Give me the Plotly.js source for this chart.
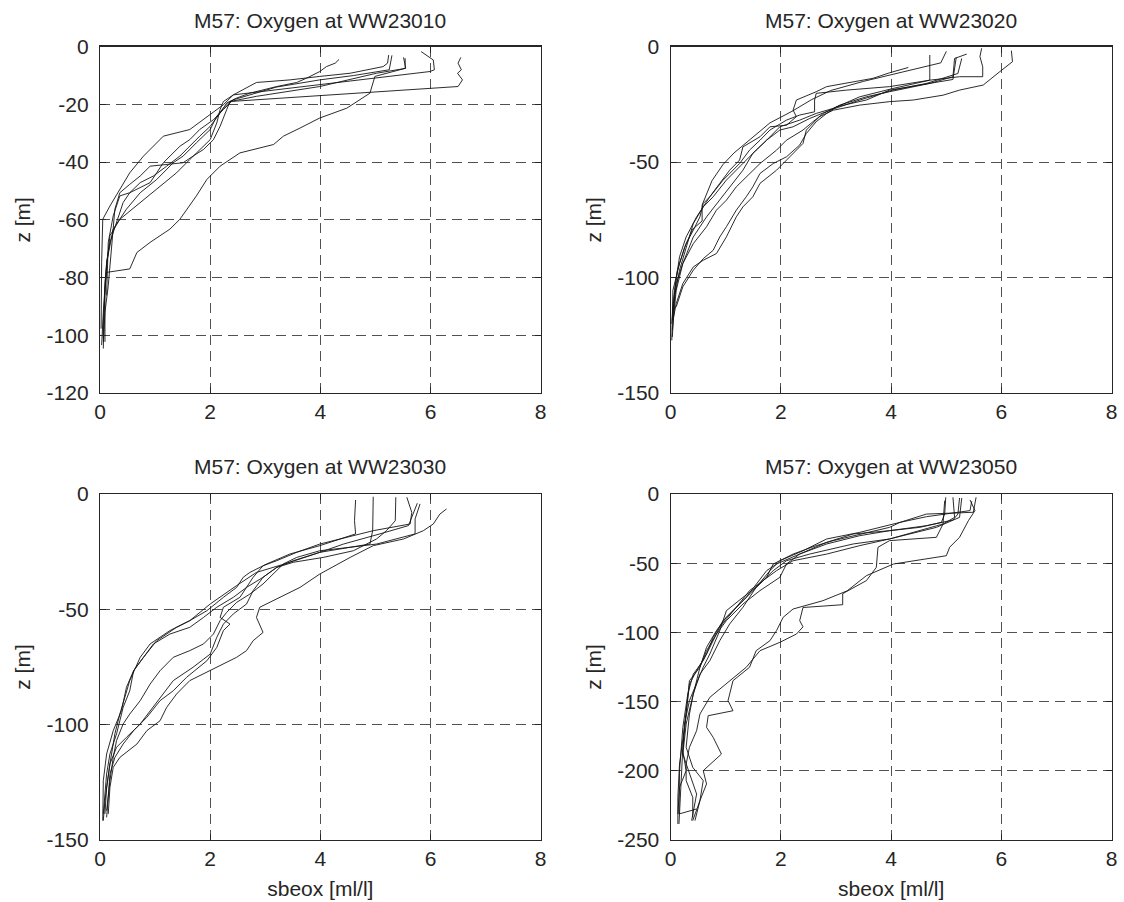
<!DOCTYPE html>
<html>
<head>
<meta charset="utf-8">
<script src="https://cdn.plot.ly/plotly-3.0.1.min.js"></script>
<style>html,body{margin:0;padding:0;background:#fff;}#chart{width:1124px;height:902px;}</style>
</head>
<body>
<div id="chart"></div>
<script>
// ---------- Station titles and axis ticks ----------
const stations = ["WW23010", "WW23020", "WW23030", "WW23050"];
const xTickVals = [0, 2, 4, 6, 8];
const xTickText = ["0", "2", "4", "6", "8"];
const yTicks1 = [0, -20, -40, -60, -80, -100, -120];
const yTicks1Text = ["0", "-20", "-40", "-60", "-80", "-100", "-120"];
const yTicks2 = [0, -50, -100, -150];
const yTicks2Text = ["0", "-50", "-100", "-150"];
const yTicks4 = [0, -50, -100, -150, -200, -250];
const yTicks4Text = ["0", "-50", "-100", "-150", "-200", "-250"];
const yRanges = [[-120, 0], [-150, 0], [-150, 0], [-250, 0]];

// ---------- WW23010 casts (sbeox [ml/l], z [m]) ----------
const s1c1_ox = [6.55,6.50,6.56,6.49,6.58,6.50,2.36,2.24,2.12,2.00,1.75,1.51,1.33,1.03,0.73,0.48,0.24,0.12,0.06,0.03];
const s1c1_z  = [-3.7,-5.7,-8.0,-9.2,-11.5,-13.8,-19.0,-21.3,-24.1,-28.7,-33.3,-37.9,-40.2,-46.0,-50.6,-56.3,-63.2,-74.7,-92.0,-103.4];
const s1c2_ox = [5.83,6.05,6.07,5.99,2.42,2.24,2.18,2.12,2.00,1.81,1.63,1.39,1.09,0.73,0.36,0.18,0.09,0.06];
const s1c2_z  = [-1.7,-4.6,-8.0,-8.6,-16.7,-19.0,-21.8,-26.4,-32.2,-35.6,-39.1,-43.7,-48.3,-54.0,-59.8,-65.5,-81.6,-104.6];
const s1c3_ox = [5.54,5.54,4.99,4.90,4.48,3.99,3.63,3.33,3.15,2.54,2.18,1.94,1.75,1.45,1.27,0.91,0.67,0.54,0.12,0.09,0.06,0.06];
const s1c3_z  = [-4.0,-7.5,-10.3,-16.1,-21.3,-24.7,-28.2,-31.0,-33.9,-36.8,-41.4,-46.0,-51.7,-59.8,-63.2,-67.8,-71.3,-77.0,-78.2,-83.9,-95.4,-101.0];
const s1c4_ox = [5.24,5.22,5.14,4.54,3.99,3.45,2.84,2.42,2.24,1.88,1.63,1.15,0.79,0.54,0.36,0.18,0.05,0.03,0.02];
const s1c4_z  = [-2.9,-5.7,-6.9,-9.2,-10.3,-11.5,-12.4,-16.7,-20.1,-25.3,-28.7,-31.0,-37.9,-43.7,-49.4,-55.2,-59.8,-74.7,-97.7];
const s1c5_ox = [4.34,4.27,4.11,3.99,3.75,3.57,3.21,2.72,2.48,2.30,2.18,2.00,1.81,1.63,1.45,1.21,0.97,0.73,0.54,0.42,0.30,0.18,0.12,0.09,0.09];
const s1c5_z  = [-4.4,-5.7,-6.9,-8.6,-10.9,-12.4,-13.8,-16.1,-17.8,-19.5,-23.0,-27.6,-31.0,-34.5,-37.9,-41.4,-44.8,-47.1,-50.6,-54.0,-60.9,-67.8,-74.7,-86.2,-102.3];
const s1c6_ox = [5.51,5.55,5.02,3.99,2.84,2.36,2.30,2.18,2.06,1.88,1.69,1.51,0.91,0.73,0.54,0.36,0.27,0.24,0.18,0.15,0.09,0.06];
const s1c6_z  = [-3.7,-7.5,-9.2,-13.8,-17.2,-19.0,-21.8,-27.6,-32.2,-35.6,-37.9,-40.2,-41.4,-44.8,-47.7,-50.6,-56.3,-63.2,-74.7,-82.8,-92.0,-102.3];
const s1c7_ox = [5.30,5.25,4.60,3.99,3.20,2.42,2.24,2.06,1.81,1.63,1.45,1.27,1.15,1.03,0.91,0.54,0.36,0.24,0.15,0.12];
const s1c7_z  = [-3.0,-8.0,-10.0,-11.5,-14.0,-18.4,-21.8,-25.3,-28.7,-32.2,-34.5,-37.9,-40.2,-43.7,-47.1,-50.6,-51.7,-58.6,-67.8,-86.2];

// ---------- WW23020 casts ----------
const s2c1_ox = [6.18,6.20,5.97,5.79,5.67,5.24,4.94,4.40,3.97,3.43,2.95,2.70,2.46,2.40,2.16,1.92,1.62,1.49,1.31,1.19,1.01,0.83,0.59,0.41,0.22,0.10,0.04];
const s2c1_z  = [-1.7,-6.5,-10.8,-14.5,-16.6,-18.8,-21.0,-23.1,-23.8,-25.3,-27.5,-30.3,-36.1,-41.9,-47.7,-53.5,-59.2,-65.0,-69.4,-73.7,-82.4,-89.6,-92.5,-95.4,-102.6,-111.3,-118.5];
const s2c2_ox = [5.64,5.61,5.66,5.66,5.24,4.70,4.03,3.43,2.95,2.64,2.34,1.98,1.74,1.49,1.31,1.07,0.89,0.65,0.41,0.22,0.10,0.04];
const s2c2_z  = [-0.7,-4.3,-8.7,-13.0,-13.0,-14.5,-18.1,-21.7,-26.7,-28.9,-31.8,-34.7,-40.5,-46.2,-53.5,-60.7,-66.5,-73.7,-82.4,-93.9,-102.6,-115.6];
const s2c3_ox = [5.37,5.15,5.12,4.70,3.97,3.55,3.07,2.77,2.58,2.40,2.10,1.92,1.62,1.37,1.19,1.01,0.83,0.65,0.41,0.22,0.10,0.03];
const s2c3_z  = [-3.2,-5.1,-13.0,-15.9,-19.5,-21.7,-25.3,-28.9,-32.5,-36.1,-40.5,-44.8,-50.6,-56.4,-60.7,-66.5,-70.8,-78.0,-85.3,-93.9,-105.5,-122.8];
const s2c4_ox = [5.28,5.21,4.64,4.03,3.43,2.89,2.52,2.22,1.98,1.74,1.55,1.31,1.01,0.77,0.59,0.41,0.28,0.16,0.07,0.03];
const s2c4_z  = [-5.1,-11.6,-15.9,-18.8,-23.1,-27.5,-31.1,-34.7,-36.1,-40.5,-44.8,-50.6,-57.8,-65.0,-69.4,-76.6,-86.7,-96.8,-108.4,-125.7];
const s2c5_ox = [4.70,4.70,3.97,3.19,2.64,2.61,2.61,2.34,2.10,1.80,1.62,1.43,1.25,0.95,0.71,0.47,0.28,0.16,0.07,0.03];
const s2c5_z  = [-3.6,-14.5,-17.3,-18.8,-20.2,-23.1,-28.2,-29.6,-31.8,-36.1,-40.5,-44.8,-50.6,-57.8,-65.0,-73.7,-82.4,-91.0,-105.5,-118.5];
const s2c6_ox = [4.31,3.97,3.67,3.19,2.83,2.64,2.28,2.22,2.28,2.10,1.80,1.62,1.31,1.25,1.07,0.89,0.71,0.59,0.53,0.41,0.28,0.16,0.04,0.02];
const s2c6_z  = [-9.0,-11.3,-13.7,-15.9,-17.3,-19.5,-23.1,-27.5,-30.3,-34.0,-34.7,-39.0,-43.4,-49.1,-53.5,-59.2,-65.0,-67.9,-73.7,-79.5,-85.3,-93.9,-105.5,-127.2];
const s2c7_ox = [5.18,5.12,4.52,3.97,3.55,3.01,2.83,2.64,2.46,2.34,2.10,1.86,1.62,1.49,1.37,1.19,1.01,0.89,0.77,0.59,0.41,0.22,0.10];
const s2c7_z  = [-4.6,-14.2,-16.6,-18.8,-23.1,-26.0,-28.9,-32.5,-37.6,-42.6,-47.7,-50.6,-54.9,-60.7,-65.0,-70.8,-78.0,-82.4,-88.2,-91.8,-96.8,-104.0,-112.7];
const s2c8_ox = [5.00,4.90,4.20,3.50,2.90,2.55,2.20,1.80,1.45,1.15,0.95,0.75,0.57,0.57,0.40,0.25,0.12,0.05,0.02];
const s2c8_z  = [-2.0,-7.0,-11.0,-15.0,-19.0,-23.0,-28.0,-33.0,-40.0,-46.0,-51.0,-58.0,-68.6,-75.5,-79.0,-87.0,-97.0,-110.0,-120.0];

// ---------- WW23030 casts ----------
const s3c1_ox = [6.29,6.17,6.05,5.87,5.51,4.96,4.54,3.99,3.63,3.21,2.90,2.84,2.96,2.78,2.66,2.48,1.94,1.63,1.39,1.21,1.09,0.85,0.67,0.36,0.24,0.18,0.15];
const s3c1_z  = [-6.5,-8.7,-13.0,-15.9,-19.5,-22.4,-27.5,-34.7,-40.5,-45.5,-49.1,-53.5,-60.0,-63.6,-67.9,-70.8,-77.3,-80.9,-86.7,-92.5,-98.3,-102.6,-108.4,-114.2,-118.5,-127.2,-138.7];
const s3c2_ox = [5.81,5.72,5.72,5.02,4.54,3.99,3.51,3.21,2.96,2.78,2.66,2.42,2.24,2.12,2.00,1.69,1.33,1.15,0.97,0.73,0.48,0.30,0.18,0.12,0.09];
const s3c2_z  = [-4.3,-10.8,-17.3,-21.7,-23.1,-25.3,-28.9,-31.8,-36.1,-41.9,-47.7,-52.0,-56.4,-62.1,-69.4,-75.1,-80.9,-86.7,-92.5,-99.7,-105.5,-109.8,-117.0,-127.2,-138.7];
const s3c3_ox = [5.57,5.66,5.63,4.96,3.99,3.57,3.21,2.96,2.78,2.66,2.54,2.24,2.18,2.36,2.24,2.12,1.94,1.57,1.33,1.09,0.85,0.61,0.42,0.27,0.18,0.15,0.12];
const s3c3_z  = [-1.4,-8.0,-13.0,-15.9,-21.7,-25.3,-28.9,-31.1,-36.1,-40.5,-44.8,-49.1,-53.5,-56.4,-59.2,-66.5,-72.3,-79.5,-85.3,-89.6,-96.8,-102.6,-108.4,-114.2,-121.4,-131.5,-140.2];
const s3c4_ox = [5.37,5.36,5.20,5.02,4.60,4.05,3.51,3.21,2.96,2.66,2.42,2.12,1.88,1.63,1.27,0.97,0.79,0.61,0.54,0.42,0.36,0.30,0.18,0.12,0.06];
const s3c4_z  = [-1.4,-11.6,-15.9,-19.5,-24.6,-27.5,-29.6,-31.8,-36.1,-40.5,-44.8,-49.1,-53.5,-57.8,-60.7,-65.0,-70.8,-76.6,-85.3,-92.5,-98.3,-104.0,-112.7,-121.4,-138.7];
const s3c5_ox = [4.96,4.95,4.90,4.54,3.99,3.57,3.33,3.15,2.96,2.72,2.48,2.30,2.18,2.06,1.88,1.63,1.33,1.09,0.91,0.73,0.54,0.42,0.30,0.24,0.18,0.12];
const s3c5_z  = [-1.2,-15.9,-21.7,-23.1,-24.6,-27.5,-30.3,-34.7,-39.0,-43.4,-47.0,-51.3,-54.9,-60.7,-65.0,-67.9,-70.8,-76.6,-82.4,-89.6,-95.4,-99.7,-106.9,-114.2,-124.3,-137.3];
const s3c6_ox = [4.64,4.62,4.64,3.99,3.45,3.03,2.72,2.60,2.48,2.24,1.94,1.63,1.27,0.91,0.73,0.54,0.45,0.36,0.27,0.18,0.09,0.06];
const s3c6_z  = [-2.6,-11.6,-17.3,-22.4,-26.0,-30.3,-34.0,-36.1,-40.5,-44.8,-50.6,-54.9,-59.2,-65.0,-70.8,-80.9,-88.2,-95.4,-104.0,-117.0,-132.9,-141.6];
const s3c7_ox = [5.76,5.67,5.60,5.08,4.42,3.99,3.45,2.84,2.48,2.00,1.63,1.39,1.03,0.79,0.61,0.48,0.39,0.24,0.12,0.06,0.05];
const s3c7_z  = [-4.0,-9.4,-13.7,-17.3,-21.7,-25.3,-29.6,-34.0,-39.7,-47.7,-54.9,-57.8,-63.6,-70.8,-76.6,-83.8,-93.9,-102.6,-112.7,-124.3,-141.6];

// ---------- WW23050 casts ----------
const s4c1_ox = [5.43,5.52,5.40,5.24,5.06,5.00,4.04,3.55,3.20,2.76,2.22,2.04,1.92,1.80,1.55,1.43,1.13,1.04,1.13,0.68,0.65,0.77,0.92,0.59,0.65,0.53,0.44];
const s4c1_z  = [-4.3,-12.0,-19.3,-31.3,-38.5,-44.6,-50.6,-59.0,-70.0,-77.1,-83.1,-89.1,-98.7,-106.0,-113.2,-125.2,-134.9,-149.3,-156.6,-160.2,-168.6,-175.8,-187.9,-199.9,-209.5,-221.6,-236.0];
const s4c2_ox = [5.12,5.15,4.94,4.82,3.97,3.76,3.73,3.55,3.12,3.12,2.40,2.34,2.40,2.28,1.98,1.62,1.37,1.07,0.71,0.53,0.47,0.34,0.28,0.28,0.40,0.40];
const s4c2_z  = [-2.4,-16.9,-21.7,-31.3,-33.7,-38.5,-53.0,-62.6,-72.0,-80.0,-82.0,-91.5,-96.0,-101.2,-107.2,-113.2,-125.2,-134.9,-146.9,-159.0,-171.0,-183.0,-195.1,-207.1,-219.2,-233.6];
const s4c3_ox = [5.54,5.49,4.64,4.16,3.97,3.43,2.95,2.64,2.22,1.86,1.74,1.43,1.19,0.95,0.77,0.65,0.47,0.34,0.28,0.22,0.19,0.15];
const s4c3_z  = [-2.4,-13.2,-14.5,-20.5,-24.1,-28.9,-33.7,-37.3,-43.4,-50.6,-60.2,-72.3,-81.9,-91.5,-103.6,-115.6,-127.7,-137.3,-159.0,-183.0,-207.1,-238.4];
const s4c4_ox = [5.24,5.21,5.12,4.64,3.97,3.43,2.83,2.34,2.10,1.98,1.62,1.31,1.01,0.83,0.65,0.53,0.41,0.28,0.22,0.34,0.47,0.38];
const s4c4_z  = [-2.9,-14.5,-18.8,-22.9,-26.5,-30.1,-36.1,-43.4,-50.6,-60.2,-69.8,-79.5,-91.5,-101.2,-113.2,-125.2,-144.5,-166.2,-187.9,-202.3,-216.8,-236.0];
const s4c5_ox = [4.99,4.97,4.91,4.52,3.97,3.31,2.83,2.34,1.92,1.74,1.37,1.01,0.83,0.65,0.53,0.34,0.31,0.25,0.16,0.13,0.13];
const s4c5_z  = [-2.4,-14.5,-20.5,-24.1,-26.5,-28.9,-34.9,-43.4,-50.6,-55.4,-74.7,-89.1,-98.7,-110.8,-125.2,-134.9,-146.9,-168.6,-195.1,-219.2,-238.4];
const s4c6_ox = [5.46,5.43,4.64,4.16,3.43,2.83,2.40,1.98,1.80,1.55,1.31,1.01,0.89,0.71,0.59,0.47,0.34,0.25,0.22,0.28,0.16,0.13];
const s4c6_z  = [-5.3,-12.0,-16.4,-20.5,-27.7,-32.5,-41.0,-48.2,-55.4,-67.4,-74.7,-84.3,-98.7,-115.6,-125.2,-137.3,-149.3,-166.2,-185.5,-199.9,-212.0,-231.2];
const s4c7_ox = [4.97,4.94,3.97,3.43,2.83,2.22,1.92,1.68,1.43,1.19,0.89,0.71,0.59,0.41,0.31,0.22,0.19,0.16,0.15,0.47];
const s4c7_z  = [-4.8,-21.7,-32.5,-37.3,-43.4,-48.2,-55.4,-62.6,-69.8,-81.9,-96.3,-110.8,-120.4,-130.1,-144.5,-168.6,-183.0,-199.9,-231.2,-227.6];
const s4c8_ox = [5.28,5.24,4.82,3.97,3.31,2.52,2.10,1.86,1.55,1.31,1.07,0.89,0.71,0.53,0.41,0.34,0.28,0.40,0.59,0.53,0.40];
const s4c8_z  = [-2.9,-16.9,-24.1,-32.5,-36.1,-43.4,-48.2,-55.4,-67.4,-81.9,-93.9,-106.0,-120.4,-130.1,-144.5,-159.0,-183.0,-197.5,-207.1,-221.6,-236.0];

// ---------- Build traces ----------
const casts = [
  [[s1c1_ox,s1c1_z],[s1c2_ox,s1c2_z],[s1c3_ox,s1c3_z],[s1c4_ox,s1c4_z],[s1c5_ox,s1c5_z],[s1c6_ox,s1c6_z],[s1c7_ox,s1c7_z]],
  [[s2c1_ox,s2c1_z],[s2c2_ox,s2c2_z],[s2c3_ox,s2c3_z],[s2c4_ox,s2c4_z],[s2c5_ox,s2c5_z],[s2c6_ox,s2c6_z],[s2c7_ox,s2c7_z],[s2c8_ox,s2c8_z]],
  [[s3c1_ox,s3c1_z],[s3c2_ox,s3c2_z],[s3c3_ox,s3c3_z],[s3c4_ox,s3c4_z],[s3c5_ox,s3c5_z],[s3c6_ox,s3c6_z],[s3c7_ox,s3c7_z]],
  [[s4c1_ox,s4c1_z],[s4c2_ox,s4c2_z],[s4c3_ox,s4c3_z],[s4c4_ox,s4c4_z],[s4c5_ox,s4c5_z],[s4c6_ox,s4c6_z],[s4c7_ox,s4c7_z],[s4c8_ox,s4c8_z]]
];
const yTickSets = [[yTicks1, yTicks1Text], [yTicks2, yTicks2Text], [yTicks2, yTicks2Text], [yTicks4, yTicks4Text]];

const traces = [];
casts.forEach((list, p) => {
  const sfx = p === 0 ? '' : String(p + 1);
  list.forEach(([ox, z]) => {
    traces.push({
      type: 'scatter', mode: 'lines', x: ox, y: z,
      xaxis: 'x' + sfx, yaxis: 'y' + sfx,
      line: {color: '#141414', width: 0.9},
      showlegend: false, hoverinfo: 'skip'
    });
  });
});

// ---------- Layout ----------
const FONT = 'Liberation Sans, Arial, Helvetica, sans-serif';
const INK = '#262626';
const xDomains = [[0.08897, 0.48105], [0.59671, 0.98906], [0.08897, 0.48105], [0.59671, 0.98906]];
const yDomains = [[0.56430, 0.94823], [0.56430, 0.94823], [0.06874, 0.45233], [0.06874, 0.45233]];
const titleY = [1 - 20 / 902, 1 - 20 / 902, 1 - 467 / 902, 1 - 467 / 902];

function baseAxis() {
  return {
    showline: true, linecolor: INK, linewidth: 1.2, mirror: 'ticks',
    ticks: 'inside', ticklen: 6, tickwidth: 1, tickcolor: INK,
    showgrid: true, gridcolor: INK, gridwidth: 0.8, griddash: '10px,6px',
    zeroline: false, fixedrange: true,
    tickfont: {family: FONT, size: 21, color: INK}
  };
}

const layout = {
  width: 1124, height: 902,
  margin: {l: 0, r: 0, t: 0, b: 0},
  paper_bgcolor: '#ffffff', plot_bgcolor: '#ffffff',
  font: {family: FONT, size: 21, color: INK},
  showlegend: false,
  annotations: []
};

for (let p = 0; p < 4; p++) {
  const sfx = p === 0 ? '' : String(p + 1);
  const xa = Object.assign(baseAxis(), {
    domain: xDomains[p], anchor: 'y' + sfx, range: [0, 8],
    tickmode: 'array', tickvals: xTickVals, ticktext: xTickText,
    ticklabelstandoff: 0
  });
  if (p >= 2) xa.title = {text: 'sbeox [ml/l]', font: {family: FONT, size: 21, color: INK}, standoff: 12};
  const ya = Object.assign(baseAxis(), {
    domain: yDomains[p], anchor: 'x' + sfx, range: yRanges[p],
    tickmode: 'array', tickvals: yTickSets[p][0], ticktext: yTickSets[p][1],
    ticklabelstandoff: 6,
    title: {text: 'z [m]', font: {family: FONT, size: 21, color: INK}, standoff: 10}
  });
  layout['xaxis' + sfx] = xa;
  layout['yaxis' + sfx] = ya;
  layout.annotations.push({
    text: 'M57: Oxygen at ' + stations[p],
    xref: 'paper', yref: 'paper',
    x: (xDomains[p][0] + xDomains[p][1]) / 2,
    y: titleY[p],
    xanchor: 'center', yanchor: 'middle', showarrow: false,
    font: {family: FONT, size: 21, color: INK}
  });
}

Plotly.newPlot('chart', traces, layout, {staticPlot: true, displayModeBar: false});
</script>
</body>
</html>
